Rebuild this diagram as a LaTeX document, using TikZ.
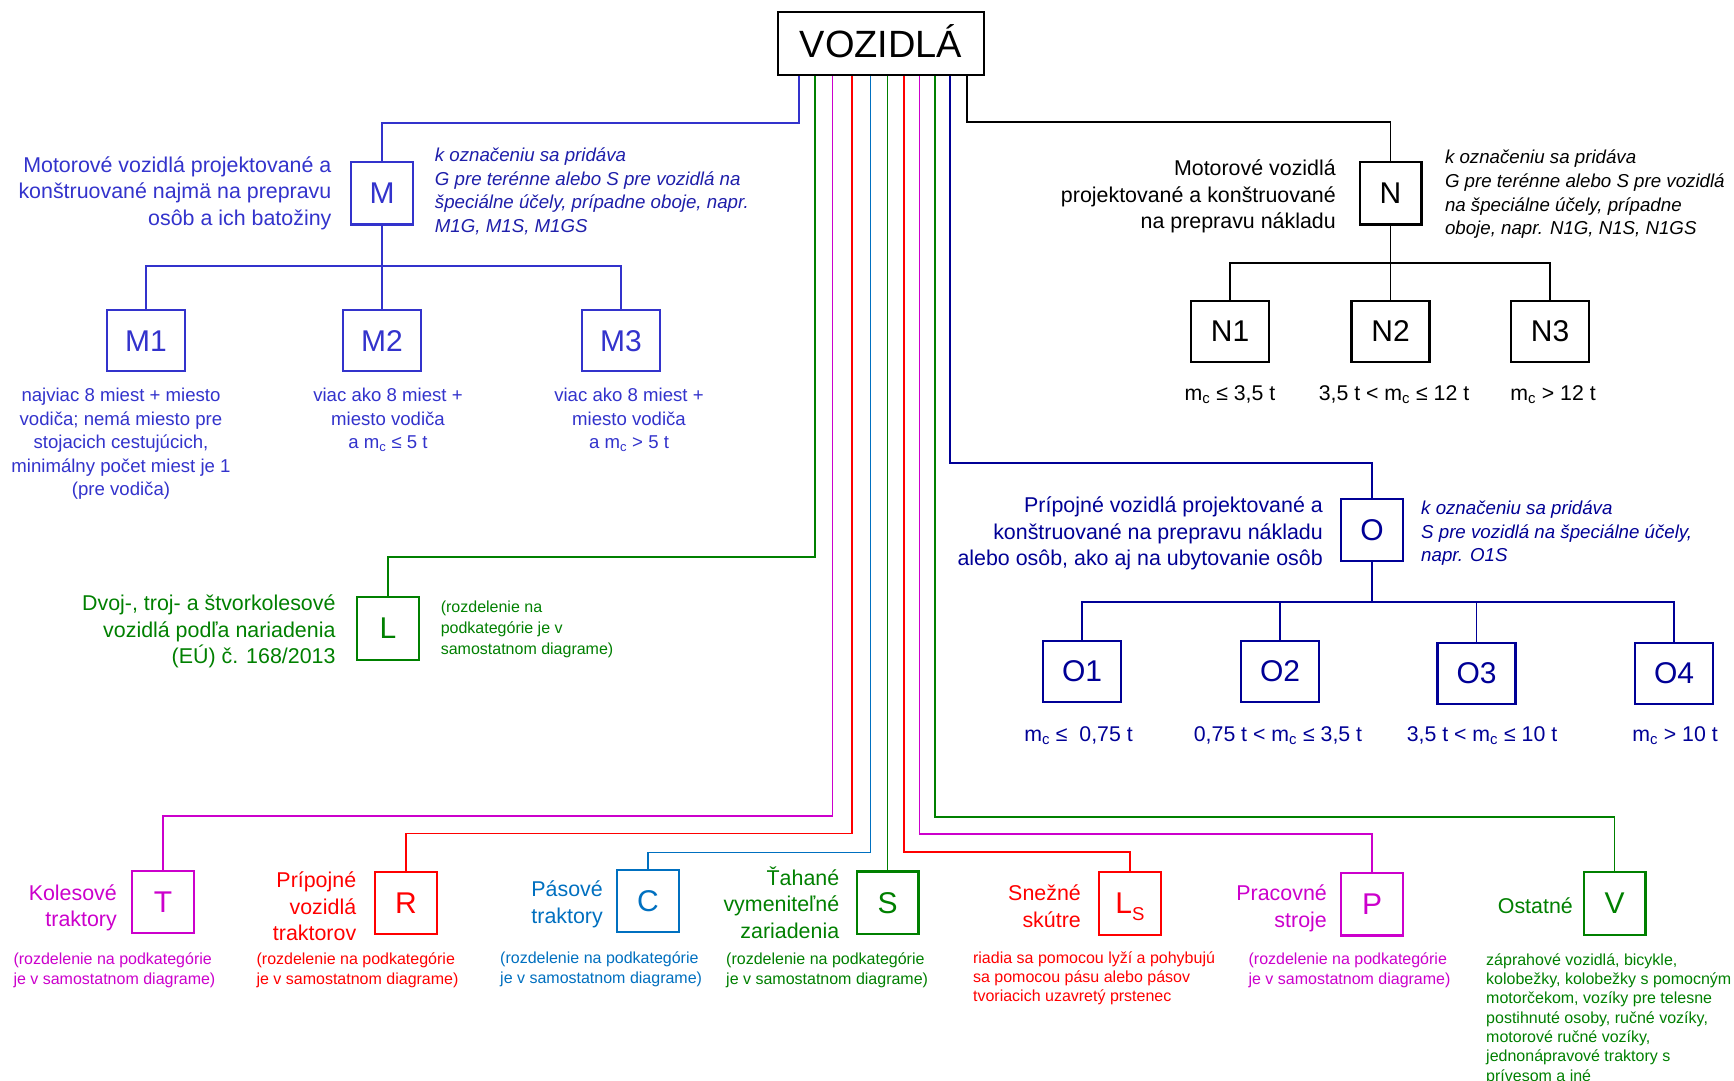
\documentclass[tikz,border=0pt]{standalone}
\usepackage{fontspec}
\setmainfont{Liberation Sans}
\usetikzlibrary{calc}
\definecolor{cM}{RGB}{51,51,204}
\definecolor{cMi}{RGB}{30,30,170}
\definecolor{cO}{RGB}{0,0,150}
\definecolor{cG}{RGB}{0,128,0}
\definecolor{cMg}{RGB}{204,0,204}
\definecolor{cR}{RGB}{255,0,0}
\definecolor{cC}{RGB}{0,112,192}
\newcommand{\fst}{\rule{0pt}{1em}}
\newcommand{\mc}{m\textsubscript{c}}
\begin{document}
\begin{tikzpicture}[x=1pt,y=-1pt,
 catbox/.style={draw,line width=2.4pt,inner sep=0pt,minimum width=61.6pt,minimum height=62.5pt,font=\fontsize{30}{30}\selectfont},
 subbox/.style={catbox,minimum width=78pt,minimum height=61pt},
 conn/.style={line width=1.6pt},
 desc/.style={inner sep=0pt,anchor=north east,align=right,font=\fontsize{21.4}{26.6}\selectfont},
 inote/.style={inner sep=0pt,anchor=north west,align=left,font=\fontsize{18.7}{23.6}\selectfont\itshape},
 cnote/.style={inner sep=0pt,anchor=north,align=center,font=\fontsize{18.6}{23.5}\selectfont},
 mass/.style={inner sep=0pt,anchor=base,font=\fontsize{21.3}{24}\selectfont},
 snote/.style={inner sep=0pt,anchor=north west,align=left,font=\fontsize{16}{19.6}\selectfont}]
\fill[white] (0,0) rectangle (1734,1081);
\useasboundingbox (0,0) rectangle (1734,1081);

% root
\node[catbox,minimum width=205.6pt,minimum height=62.6pt,text height=27.2pt,text depth=0pt,font=\fontsize{38}{40}\selectfont] (voz) at (881,43.5) {VOZIDLÁ};

% ---------------- M group
\node[catbox,cM] (M) at (382,193.3) {M};
\node[subbox,cM] (M1) at (146,340.7) {M1};
\node[subbox,cM] (M2) at (382,340.7) {M2};
\node[subbox,cM] (M3) at (621,340.7) {M3};
\node[desc,cM] (Md) at (331.6,150.5) {\fst Motorové vozidlá projektované a\\konštruované najmä na prepravu\\osôb a ich batožiny};
\node[inote,cMi] (Mi) at (434.7,142.5) {\fst k označeniu sa pridáva\\G pre terénne alebo S pre vozidlá na\\špeciálne účely, prípadne oboje, napr.\\M1G, M1S, M1GS};
\node[cnote,cM] (M1n) at (121,383) {\fst najviac 8 miest + miesto\\vodiča; nemá miesto pre\\stojacich cestujúcich,\\minimálny počet miest je 1\\(pre vodiča)};
\node[cnote,cM] (M2n) at (388,383) {\fst viac ako 8 miest +\\miesto vodiča\\a \mc{} ≤ 5 t};
\node[cnote,cM] (M3n) at (629,383) {\fst viac ako 8 miest +\\miesto vodiča\\a \mc{} > 5 t};

% ---------------- N group
\node[catbox] (N) at (1390.5,193.2) {N};
\node[subbox] (N1) at (1230,331.5) {N1};
\node[subbox] (N2) at (1390.5,331.5) {N2};
\node[subbox] (N3) at (1550,331.5) {N3};
\node[desc] (Nd) at (1336,154) {\fst Motorové vozidlá\\projektované a konštruované\\na prepravu nákladu};
\node[inote] (Ni) at (1444.8,145) {\fst k označeniu sa pridáva\\G pre terénne alebo S pre vozidlá\\na špeciálne účely, prípadne\\oboje, napr. N1G, N1S, N1GS};
\node[mass] (N1n) at (1230,400) {\mc{} ≤ 3,5 t};
\node[mass] (N2n) at (1394,400) {3,5 t < \mc{} ≤ 12 t};
\node[mass] (N3n) at (1553,400) {\mc{} > 12 t};

% ---------------- O group
\node[catbox,cO] (O) at (1372,530) {O};
\node[subbox,cO] (O1) at (1082,671.5) {O1};
\node[subbox,cO] (O2) at (1280,671.5) {O2};
\node[subbox,cO] (O3) at (1476.5,673.5) {O3};
\node[subbox,cO] (O4) at (1674,673.5) {O4};
\node[desc,cO] (Od) at (1323,491) {\fst Prípojné vozidlá projektované a\\konštruované na prepravu nákladu\\alebo osôb, ako aj na ubytovanie osôb};
\node[inote,cO] (Oi) at (1421,495.5) {\fst k označeniu sa pridáva\\S pre vozidlá na špeciálne účely,\\napr. O1S};
\node[mass,cO] (O1n) at (1078.5,741) {\mc{} ≤\ \ 0,75 t};
\node[mass,cO] (O2n) at (1278,741) {0,75 t < \mc{} ≤ 3,5 t};
\node[mass,cO] (O3n) at (1482,741) {3,5 t < \mc{} ≤ 10 t};
\node[mass,cO] (O4n) at (1675,741) {\mc{} > 10 t};

% ---------------- L
\node[catbox,cG] (L) at (388,628.5) {L};
\node[desc,cG] (Ld) at (335.7,589) {\fst Dvoj-, troj- a štvorkolesové\\vozidlá podľa nariadenia\\(EÚ) č. 168/2013};
\node[snote,cG,font=\fontsize{16}{21}\selectfont] (Ln) at (440.6,596.5) {\fst (rozdelenie na\\podkategórie je v\\samostatnom diagrame)};

% ---------------- bottom row
\node[catbox,cMg] (T) at (163,902) {T};
\node[desc,cMg] (Td) at (117,878.5) {\fst Kolesové\\traktory};
\node[snote,cMg] (Tn) at (13.3,948.7) {\fst (rozdelenie na podkategórie\\je v samostatnom diagrame)};

\node[catbox,cR] (R) at (406,903) {R};
\node[desc,cR] (Rd) at (356.4,866) {\fst Prípojné\\vozidlá\\traktorov};
\node[snote,cR] (Rn) at (256.4,948.7) {\fst (rozdelenie na podkategórie\\je v samostatnom diagrame)};

\node[catbox,cC] (C) at (648,901) {C};
\node[desc,cC] (Cd) at (603,875) {\fst Pásové\\traktory};
\node[snote,cC] (Cn) at (500,947.7) {\fst (rozdelenie na podkategórie\\je v samostatnom diagrame)};

\node[catbox,cG] (S) at (887.5,902.7) {S};
\node[desc,cG] (Sd) at (839.4,863.5) {\fst Ťahané\\vymeniteľné\\zariadenia};
\node[snote,cG] (Sn) at (726,948.7) {\fst (rozdelenie na podkategórie\\je v samostatnom diagrame)};

\node[catbox,cR,text depth=0pt] (Ls) at (1130,903.5) {L\raisebox{-6.7pt}{\fontsize{18.6}{20}\selectfont S}};
\node[desc,cR] (Lsd) at (1081,879) {\fst Snežné\\skútre};
\node[snote,cR,font=\fontsize{16}{19}\selectfont] (Lsn) at (972.9,947.7) {\fst riadia sa pomocou lyží a pohybujú\\sa pomocou pásu alebo pásov\\tvoriacich uzavretý prstenec};

\node[catbox,cMg] (P) at (1372,904.3) {P};
\node[desc,cMg] (Pd) at (1327,879) {\fst Pracovné\\stroje};
\node[snote,cMg] (Pn) at (1248.4,948.7) {\fst (rozdelenie na podkategórie\\je v samostatnom diagrame)};

\node[catbox,cG] (V) at (1614.5,903.5) {V};
\node[desc,cG,anchor=base east] (Vd) at (1573,913) {Ostatné};
\node[snote,cG,font=\fontsize{16}{19.3}\selectfont] (Vn) at (1486,949) {\fst záprahové vozidlá, bicykle,\\kolobežky, kolobežky s pomocným\\motorčekom, vozíky pre telesne\\postihnuté osoby, ručné vozíky,\\motorové ručné vozíky,\\jednonápravové traktory s\\prívesom a iné};

% ---------------- connectors from the root
\draw[conn,cM]  ([xshift=-82pt]voz.south) -- ++(0,47) -| (M.north);
\draw[conn,cG]  ([xshift=-66pt]voz.south) -- ++(0,481) -| (L.north);
\draw[conn,cMg] ([xshift=-48.5pt]voz.south) -- ++(0,740.2) -| (T.north);
\draw[conn,cR]  ([xshift=-29pt]voz.south) -- ++(0,757.5) -| (R.north);
\draw[conn,cC]  ([xshift=-10.5pt]voz.south) -- ++(0,776.5) -| (C.north);
\draw[conn,cG]  (S.north |- voz.south) -- (S.north);
\draw[conn,cR]  ([xshift=23pt]voz.south) -- ++(0,776) -| (Ls.north);
\draw[conn,cMg] ([xshift=38.5pt]voz.south) -- ++(0,758) -| (P.north);
\draw[conn,cG]  ([xshift=54pt]voz.south) -- ++(0,741) -| (V.north);
\draw[conn,cO]  ([xshift=69pt]voz.south) -- ++(0,387) -| (O.north);
\draw[conn]     ([xshift=86pt]voz.south) -- ++(0,46) -| (N.north);

% ---------------- sub-buses
\draw[conn,cM] (M.south) -- (M2.north);
\draw[conn,cM] (M1.north) -- ++(0,-43) -| (M3.north);
\draw[conn] (N.south) -- (N2.north);
\draw[conn] (N1.north) -- ++(0,-37) -| (N3.north);
\draw[conn,cO] (O.south) -- ++(0,39.8) coordinate (ob);
\draw[conn,cO] (O1.north) |- (ob) -| (O4.north);
\draw[conn,cO] (O2.north) -- (O2.north |- ob);
\draw[conn,cO] (O3.north) -- (O3.north |- ob);
\end{tikzpicture}
\end{document}
